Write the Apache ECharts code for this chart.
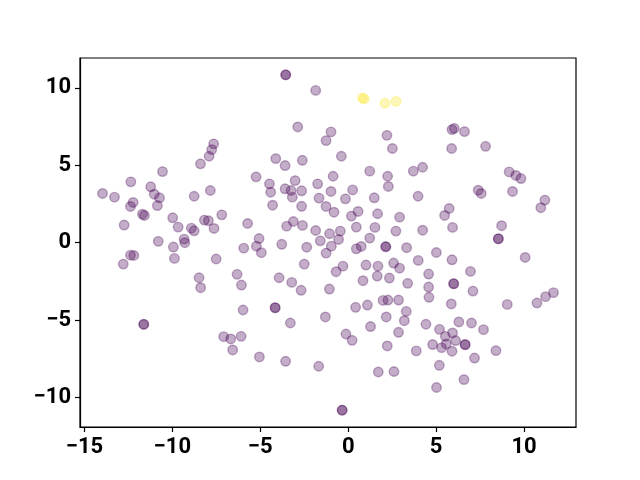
<!DOCTYPE html>
<html>
<head>
<meta charset="utf-8">
<script src="https://cdn.jsdelivr.net/npm/echarts@6/dist/echarts.min.js"></script>
<style>
  html, body { margin: 0; padding: 0; background: #fff; }
  #chart { width: 640px; height: 480px; }
</style>
</head>
<body>
<div id="chart"></div>
<script>
// class 0 points (purple)
var purpleX = [
  -3.56, -3.55, -1.85, -2.87, -0.98, -1.26, -0.39, -2.61, -0.86, -1.74,
  -0.98, 0.25, -2.65, -1.66, -0.16, -1.26, -0.81, -2.65, 0.18, 0.56,
  -2.60, 0.46, -1.85, -1.06, -0.45, -0.55, -1.59, -7.65, -7.76, -7.91,
  -8.40, -10.56, -12.36, -4.12, -3.59, -5.24, -4.48, -4.41, -3.02, -3.59,
  -3.25, -3.18, -4.30, -13.97, -13.29, -11.23, -11.03, -10.73, -10.85, -12.23,
  -12.38, -11.70, -11.59, -12.74, -8.76, -7.84, -7.19, -9.98, -9.67, -8.92,
  -8.76, -8.18, -7.95, -7.63, -10.80, -5.72, -5.07, -3.50, -3.12, -3.78,
  -9.33, -9.29, -9.94, -12.38, -12.19, -12.79, -9.88, -7.51, -5.22, -5.94,
  -4.94, -2.36, -1.26, -0.96, -2.50, -0.30, -0.69, -2.68, -1.07, 0.84,
  0.42, -1.30, -0.13, 0.22, -1.68, -0.35, -0.34, -8.48, -8.39, -6.32,
  -6.07, -3.93, -3.21, -5.98, -4.16, -4.15, -3.29, -11.63, -11.62, -7.08,
  -6.68, -6.09, -6.57, -5.05, -3.56,
  2.20, 2.51, 5.90, 6.03, 6.61, 7.81, 5.88, 1.22, 2.24, 3.70,
  4.23, 2.28, 1.48, 3.97, 1.67, 2.92, 1.52, 2.71, 4.23, 5.93,
  5.74, 5.48, 1.22, 9.15, 9.53, 9.82, 7.39, 7.56, 9.34, 11.18,
  10.95, 8.72, 8.53, 8.54, 0.74, 0.46, 2.13, 2.14, 3.32, 5.01,
  3.98, 5.90, 10.06, 1.01, 1.69, 2.58, 2.92, 1.65, 2.34, 3.38,
  4.57, 4.57, 4.59, 5.99, 6.00, 6.95, 7.09, 5.86, 9.04, 10.73,
  11.22, 11.67, 1.09, 1.98, 2.26, 2.86, 3.30, 2.16, 3.19, 1.27,
  2.86, 4.42, 6.29, 7.01, 7.69, 5.19, 5.52, 5.93, 6.10, 5.57,
  5.31, 4.80, 5.90, 6.64, 6.65, 7.18, 8.40, 3.87, 2.22, 1.71,
  2.60, 5.18, 5.02, 6.58
];
var purpleY = [
  10.84, 10.83, 9.83, 7.47, 7.15, 6.59, 5.58, 5.32, 4.29, 3.80,
  3.31, 3.41, 3.35, 2.88, 2.83, 2.34, 1.97, 2.35, 1.72, 2.02,
  1.12, 1.01, 0.79, 0.58, 0.75, 0.21, 0.12, 6.38, 6.01, 5.58,
  5.09, 4.59, 3.93, 5.43, 4.98, 4.25, 3.80, 3.26, 4.01, 3.48,
  3.37, 2.94, 2.42, 3.18, 2.94, 3.61, 3.13, 2.90, 2.40, 2.60,
  2.34, 1.84, 1.76, 1.14, 3.00, 3.37, 1.80, 1.61, 1.01, 0.94,
  0.77, 1.46, 1.42, 0.92, 0.09, 1.24, 0.27, 1.07, 1.37, -0.10,
  0.23, 0.00, -0.28, -0.80, -0.82, -1.38, -1.01, -1.05, -0.22, -0.35,
  -0.64, -0.29, -0.67, -0.22, -1.38, -1.51, -1.87, -3.07, -2.99, -2.45,
  -4.17, -4.79, -5.89, -6.30, -7.97, -10.81, -10.80, -2.26, -2.90, -2.04,
  -2.73, -2.26, -2.56, -4.34, -4.19, -4.20, -5.18, -5.26, -5.27, -6.06,
  -6.21, -6.04, -6.92, -7.37, -7.65,
  6.93, 6.08, 7.30, 7.38, 7.17, 6.22, 6.08, 4.62, 4.29, 4.62,
  4.87, 3.63, 2.90, 3.00, 1.87, 1.65, 0.99, 0.75, 0.81, 0.99,
  2.21, 1.76, 0.30, 4.57, 4.34, 4.14, 3.39, 3.18, 3.31, 2.75,
  2.26, 1.10, 0.26, 0.25, -0.24, -0.39, -0.25, -0.26, -0.32, -0.63,
  -1.14, -1.10, -0.95, -1.44, -1.51, -1.31, -1.64, -2.15, -2.28, -2.62,
  -2.02, -2.86, -3.52, -2.64, -2.65, -1.85, -3.12, -3.95, -3.98, -3.89,
  -3.48, -3.22, -4.02, -3.72, -3.70, -3.70, -4.43, -4.79, -5.03, -5.41,
  -5.78, -5.26, -5.11, -5.18, -5.61, -5.59, -6.04, -5.82, -6.31, -6.53,
  -6.77, -6.57, -7.00, -6.57, -6.58, -7.44, -6.96, -6.98, -6.66, -8.34,
  -8.31, -7.91, -9.34, -8.83
];
// class 1 points (yellow)
var yellowX = [0.80, 0.91, 2.09, 2.72];
var yellowY = [9.34, 9.28, 9.00, 9.12];

var xTicks = [-15, -10, -5, 0, 5, 10];
var yTicks = [-10, -5, 0, 5, 10];

function pairs(xs, ys) {
  var out = [];
  for (var i = 0; i < xs.length; i++) out.push([xs[i], ys[i]]);
  return out;
}
function minusSign(v) {
  return String(v).replace('-', '\u2212');
}

var myChart = echarts.init(document.getElementById('chart'), null, { renderer: 'canvas' });

var labelStyle = {
  color: '#000',
  fontFamily: 'Roboto',
  fontWeight: 'bold',
  fontSize: 22
};

var option = {
  animation: false,
  backgroundColor: '#fff',
  grid: {
    left: 80, right: 64, top: 58, bottom: 53,
    show: true,
    borderColor: '#000',
    borderWidth: 1.2
  },
  xAxis: {
    type: 'value',
    min: -15.25,
    max: 12.95,
    axisLine: { onZero: false, lineStyle: { color: '#000', width: 1.2 } },
    axisTick: { show: true, length: 5, customValues: xTicks, lineStyle: { color: '#000', width: 1.2 } },
    axisLabel: Object.assign({ customValues: xTicks, margin: 9, formatter: minusSign }, labelStyle),
    splitLine: { show: false }
  },
  yAxis: {
    type: 'value',
    min: -11.89,
    max: 11.92,
    axisLine: { onZero: false, lineStyle: { color: '#000', width: 1.2 } },
    axisTick: { show: true, length: 5, customValues: yTicks, lineStyle: { color: '#000', width: 1.2 } },
    axisLabel: Object.assign({ customValues: yTicks, margin: 9, formatter: minusSign }, labelStyle),
    splitLine: { show: false }
  },
  series: [
    {
      type: 'scatter',
      symbolSize: 9.5,
      data: pairs(purpleX, purpleY),
      itemStyle: {
        color: 'rgba(68,1,84,0.4)',
        borderColor: 'rgba(68,1,84,0.4)',
        borderWidth: 1.4
      }
    },
    {
      type: 'scatter',
      symbolSize: 9.5,
      data: pairs(yellowX, yellowY),
      itemStyle: {
        color: 'rgba(253,231,37,0.4)',
        borderColor: 'rgba(253,231,37,0.4)',
        borderWidth: 1.4
      }
    }
  ]
};

myChart.setOption(option);
window.addEventListener('resize', function () {
  myChart.resize();
});
</script>
</body>
</html>
